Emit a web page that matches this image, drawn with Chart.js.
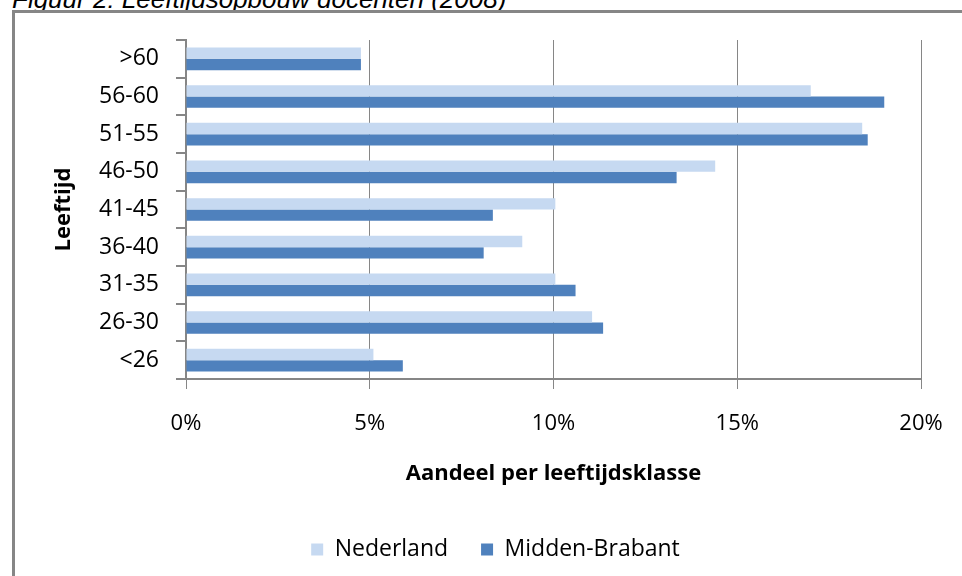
<!DOCTYPE html>
<html>
<head>
<meta charset="utf-8">
<script src="https://cdn.jsdelivr.net/npm/chart.js@4"></script>
<style>
  html, body { margin: 0; padding: 0; background: #fff; overflow: hidden; }
  #wrap { position: relative; width: 962px; height: 576px; overflow: hidden; }
  #titel { position: absolute; left: 12px; top: -14px; font: italic 26px/26px "Liberation Sans", Arial, sans-serif; white-space: nowrap; color: #000; }
  #kader { position: absolute; left: 12px; top: 10px; width: 1000px; height: 700px; border: 3px solid #868686; box-sizing: border-box; }
  canvas { position: absolute; left: 0; top: 0; }
</style>
</head>
<body>
<div id="wrap">
  <div id="titel">Figuur 2: Leeftijdsopbouw docenten (2008)</div>
  <div id="kader"></div>
  <canvas id="grafiek" width="962" height="576"></canvas>
</div>
<script>
// leeftijdsklassen van boven naar beneden
const leeftijden = ['>60', '56-60', '51-55', '46-50', '41-45', '36-40', '31-35', '26-30', '<26'];
// aandeel per klasse in procenten
const nederland = [4.76, 17.0, 18.4, 14.4, 10.05, 9.15, 10.05, 11.05, 5.1];
const middenBrabant = [4.76, 19.0, 18.55, 13.35, 8.35, 8.1, 10.6, 11.35, 5.9];
const xTicks = [0, 5, 10, 15, 20];

const grijs = '#868686';
Chart.defaults.font.family = '"Open Sans", sans-serif';
Chart.defaults.color = '#000';

// legenda iets naar rechts, zoals in het origineel
const legendaSchuif = {
  id: 'legendaSchuif',
  afterLayout(chart) {
    chart.legend.left += 15;
    chart.legend.right += 15;
  }
};

new Chart(document.getElementById('grafiek'), {
  type: 'bar',
  data: {
    labels: leeftijden,
    datasets: [
      { label: 'Nederland', data: nederland, backgroundColor: '#C6D9F1', categoryPercentage: 0.6, barPercentage: 1 },
      { label: 'Midden-Brabant', data: middenBrabant, backgroundColor: '#4F81BD', categoryPercentage: 0.6, barPercentage: 1 }
    ]
  },
  plugins: [legendaSchuif],
  options: {
    indexAxis: 'y',
    responsive: false,
    animation: false,
    layout: { padding: { left: 40, right: 41, top: 40, bottom: 5 } },
    plugins: {
      legend: { position: 'bottom', labels: { boxWidth: 12, boxHeight: 12, padding: 33, font: { size: 23 }, color: '#000' } },
      tooltip: { enabled: false }
    },
    scales: {
      x: {
        min: xTicks[0], max: xTicks[xTicks.length - 1],
        afterBuildTicks: s => { s.ticks = xTicks.map(v => ({ value: v })); },
        ticks: { callback: v => v + '%', padding: 22, font: { size: 22 }, color: '#000', maxRotation: 0 },
        grid: { color: grijs, lineWidth: 1, tickLength: 10 },
        border: { color: grijs, width: 2 },
        title: { display: true, text: 'Aandeel per leeftijdsklasse', font: { size: 22, weight: 'bold' }, color: '#000', padding: { top: 0, bottom: 18 } },
        afterFit: s => { s.height = 126; s.paddingLeft = 0; s.paddingRight = 0; }
      },
      y: {
        ticks: { padding: 17, font: { size: 23 }, color: '#000' },
        grid: { drawOnChartArea: false, color: grijs, lineWidth: 2, tickLength: 10, offset: true },
        border: { color: grijs, width: 2 },
        title: { display: true, text: 'Leeftijd', font: { size: 22, weight: 'bold' }, color: '#000', padding: { top: 11, bottom: 0 } },
        afterFit: s => { s.width = 146; }
      }
    }
  }
});
</script>
</body>
</html>
